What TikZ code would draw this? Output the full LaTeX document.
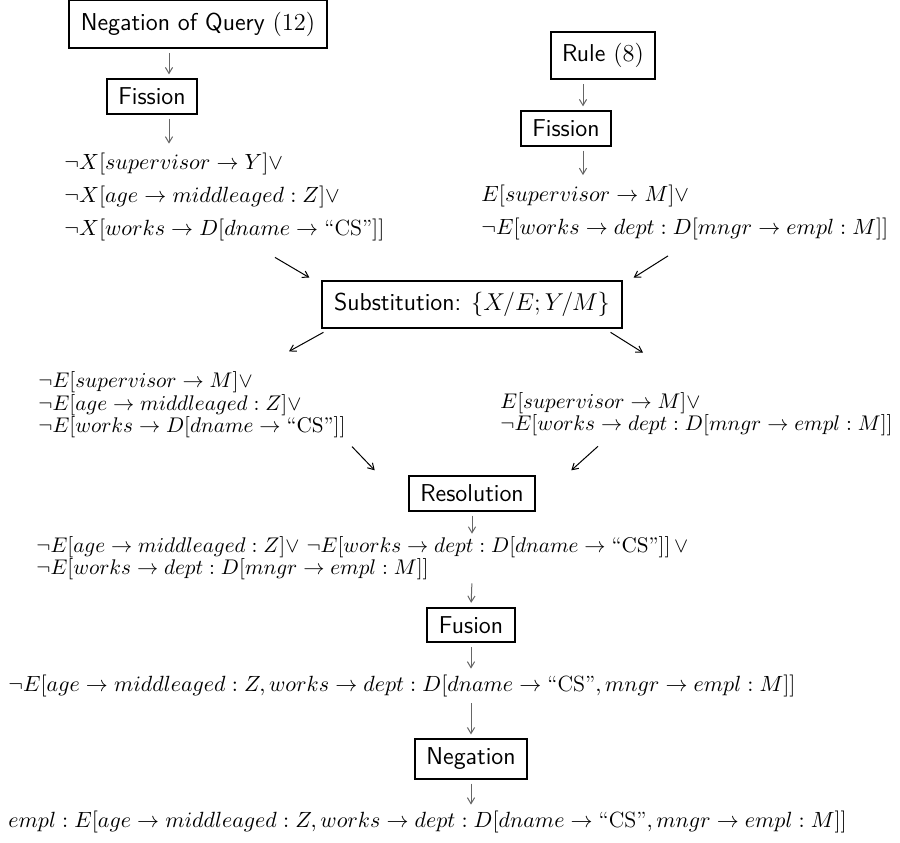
\RequirePackage{fix-cm}
\documentclass[tikz,border=0pt]{standalone}
\usepackage{tikz}
\usetikzlibrary{arrows.meta,calc,positioning}

\tikzset{
  stepbox/.style={draw, line width=1pt, inner xsep=5.8pt, inner ysep=4.3pt,
                  font=\fontsize{12.2}{15}\sffamily},
  tallbox/.style={stepbox, inner ysep=5.8pt},
  formula/.style={inner sep=0pt, align=left, anchor=west,
                  font=\fontsize{11}{16.5}\selectfont},
  tight/.style={font=\fontsize{10.6}{11.3}\selectfont},
  vflow/.style={-{Straight Barb[length=3pt,width=3.6pt]}, black!60, line width=0.5pt,
                shorten <=2pt, shorten >=2pt},
  dflow/.style={-{Straight Barb[length=3pt,width=3.6pt]}, black, line width=0.5pt},
}

\begin{document}
\begin{tikzpicture}[x=0.5pt, y=-0.5pt]
  \useasboundingbox (0,0) rectangle (900,842);

  % Operation boxes
  \node[tallbox] (negq)   at (198,24)    {Negation\ of\ Query\ $(12)$};
  \node[stepbox] (fisL)   at (152,96.5)  {Fission};
  \node[tallbox] (rule)   at (603,55.5)  {Rule $(8)$};
  \node[stepbox] (fisR)   at (566,128.5) {Fission};
  \node[tallbox] (subst)  at (472,304.5) {Substitution:\hspace{5pt}$\{X/E;Y/M\}$};
  \node[stepbox] (resol)  at (472,493.5) {Resolution};
  \node[stepbox] (fusion) at (471,625)   {Fusion};
  \node[stepbox] (negat)  at (471,759)   {Negation};

  % Clauses
  \node[formula] (fL) at (64,197) {%
    $\neg X[supervisor \rightarrow Y]\vee$\\
    $\neg X[age \rightarrow middleaged : Z]\vee$\\
    $\neg X[works \rightarrow D[dname \rightarrow \mbox{``CS''}]]$};
  \node[formula] (fR) at (481,212) {%
    $E[supervisor \rightarrow M]\vee$\\
    $\neg E[works \rightarrow dept : D[mngr \rightarrow empl : M]]$};
  \node[formula, tight] (sL) at (38,405) {%
    $\neg E[supervisor \rightarrow M]\vee$\\
    $\neg E[age \rightarrow middleaged : Z]\vee$\\
    $\neg E[works \rightarrow D[dname \rightarrow \mbox{``CS''}]]$};
  \node[formula, tight] (sR) at (500,414) {%
    $E[supervisor \rightarrow M]\vee$\\
    $\neg E[works \rightarrow dept : D[mngr \rightarrow empl : M]]$};
  \node[formula, tight] (res) at (36,558) {%
    $\neg E[age \rightarrow middleaged : Z]\vee$
    $\neg E[works \rightarrow dept : D[dname \rightarrow \mbox{``CS''}]]\,\vee$\\
    $\neg E[works \rightarrow dept : D[mngr \rightarrow empl : M]]$};
  \node[formula] (fus) at (8,686) {%
    $\neg E[age \rightarrow middleaged : Z, works \rightarrow dept : D[dname \rightarrow \mbox{``CS''}, mngr \rightarrow empl : M]]$};
  \node[formula] (fin) at (8,822) {%
    $empl : E[age \rightarrow middleaged : Z, works \rightarrow dept : D[dname \rightarrow \mbox{``CS''}, mngr \rightarrow empl : M]]$};

  % Columns of the upper arrows
  \coordinate (colL) at (169,0);
  \coordinate (colR) at (583,0);

  % Vertical steps
  \draw[vflow] (negq.south -| colL) -- (fisL.north -| colL);
  \draw[vflow, shorten >=4.5pt] (fisL.south -| colL) -- (fL.north -| colL);
  \draw[vflow] (rule.south -| colR) -- (fisR.north -| colR);
  \draw[vflow, shorten >=4.5pt] (fisR.south -| colR) -- (fR.north -| colR);
  \draw[vflow, shorten >=1pt] (resol.south) -- (resol.south |- res.north);
  \draw[vflow, shorten <=1.5pt] (res.south -| resol) -- (fusion.north);
  \draw[vflow, shorten >=3pt] (fusion.south) -- (fusion.south |- fus.north);
  \draw[vflow, shorten <=3pt] (fus.south -| fusion) -- (negat.north);
  \draw[vflow, shorten >=3pt] (negat.south) -- (negat.south |- fin.north);

  % Diagonal steps
  \draw[dflow] ($(fL.south west)+(211,16)$) -- ($(subst.north west)+(-12,-2)$);
  \draw[dflow] ($(fR.south west)+(187,16)$) -- ($(subst.north east)+(11,-2)$);
  \draw[dflow] ($(subst.south west)+(2,3)$) -- ($(sL.north west)+(251,-20)$);
  \draw[dflow] ($(subst.south east)+(-12,3)$) -- ($(sR.north west)+(143,-39)$);
  \draw[dflow] ($(sL.south west)+(314,8)$) -- ($(resol.north west)+(-33,-5)$);
  \draw[dflow] ($(sR.south west)+(98,10)$) -- ($(resol.north east)+(35,-5)$);
\end{tikzpicture}
\end{document}
